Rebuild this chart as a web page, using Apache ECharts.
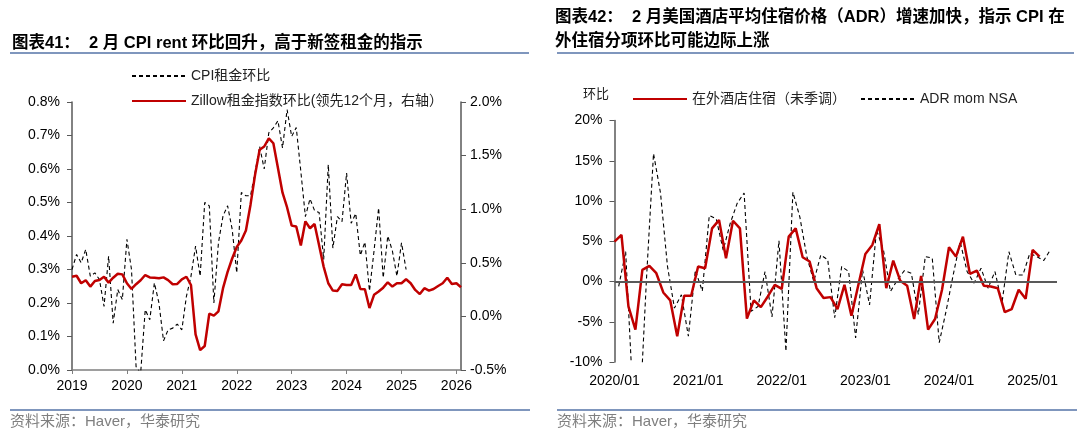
<!DOCTYPE html>
<html>
<head>
<meta charset="utf-8">
<script src="https://cdn.jsdelivr.net/npm/echarts@6/dist/echarts.min.js"></script>
<style>
html,body{margin:0;padding:0;background:#fff;}
#c{width:1080px;height:436px;}
</style>
</head>
<body>
<div id="c"></div>
<script>
// ---------- Left chart data (monthly, 2019-01 .. 2026-02) ----------
const leftStartYear = 2019;
const leftMonthCount = 86;
const leftYearLabels = ['2019','2020','2021','2022','2023','2024','2025','2026'];
// CPI rent MoM (%), 2019-01 .. 2025-02
const cpiRent = [
  0.30, 0.345, 0.32, 0.36, 0.28, 0.29, 0.27, 0.19, 0.34, 0.14, 0.24, 0.21,
  0.39, 0.30, 0.01, -0.01, 0.18, 0.15, 0.26, 0.20, 0.087, 0.12, 0.125, 0.137,
  0.12, 0.22, 0.28, 0.37, 0.28, 0.50, 0.49, 0.20, 0.38, 0.46, 0.49, 0.42,
  0.29, 0.53, 0.52, 0.52, 0.59, 0.667, 0.60, 0.708, 0.723, 0.744, 0.663, 0.777,
  0.697, 0.724, 0.593, 0.458, 0.511, 0.476, 0.47, 0.33, 0.613, 0.364, 0.458, 0.443,
  0.588, 0.438, 0.467, 0.342, 0.382, 0.236, 0.356, 0.484, 0.275, 0.40, 0.356, 0.28,
  0.38, 0.30
];
// Zillow rent index MoM (%), shifted 12 months ahead, plotted 2019-01 .. 2026-02
const zillow = [
  0.370, 0.379, 0.309, 0.337, 0.278, 0.330, 0.339, 0.370, 0.315, 0.361, 0.398, 0.392,
  0.309, 0.256, 0.300, 0.337, 0.386, 0.364, 0.361, 0.355, 0.364, 0.339, 0.300, 0.303,
  0.346, 0.370, 0.293, -0.168, -0.315, -0.276, 0.026, 0.007, 0.047, 0.263, 0.416, 0.540,
  0.647, 0.708, 0.801, 1.040, 1.320, 1.554, 1.585, 1.661, 1.615, 1.385, 1.154, 1.016,
  0.847, 0.838, 0.662, 0.887, 0.822, 0.862, 0.662, 0.462, 0.309, 0.241, 0.238, 0.300,
  0.293, 0.293, 0.392, 0.256, 0.253, 0.078, 0.201, 0.232, 0.268, 0.318, 0.278, 0.309,
  0.309, 0.346, 0.309, 0.247, 0.208, 0.263, 0.241, 0.256, 0.284, 0.309, 0.361, 0.303,
  0.309, 0.272
];

// ---------- Right chart data (monthly from 2020-01) ----------
const rightTickLabels = ['2020/01','2021/01','2022/01','2023/01','2024/01','2025/01'];
// CPI lodging away from home MoM NSA (%), 2020-01 .. 2025-02
const lodging = [
  4.95, 5.78, -3.09, -5.98, 1.44, 1.94, 1.03, -1.36, -2.35, -6.81, -1.77, -1.77,
  1.86, 1.65, 6.60, 7.63, 2.89, 7.55, 6.60, -4.60, -2.35, -3.18, -1.86, -0.41,
  -0.91, 5.57, 6.60, 3.01, 2.48, -0.83, -2.06, -1.94, -3.42, -0.41, -4.25, -0.40,
  3.42, 4.54, 7.14, -0.83, 2.60, 0.10, -0.54, -4.66, 0.70, -5.98, -4.66, -1.03,
  4.25, 3.09, 5.57, 0.95, 1.36, -0.54, -0.62, -0.83, -3.80, -3.42, -1.03, -2.15,
  3.92, 3.09
];
// Hotel ADR MoM NSA (%), 2020-01 .. 2025-03 (dated late in each month)
const adr = [
  -0.6, 3.7, -13.6, -17.0, 0.5, 15.9, 11.0, 1.9, -3.3, -1.65, -6.8, 1.4,
  -1.2, 8.2, 7.8, 3.9, 7.2, 9.7, 11.0, -3.7, -3.1, 1.24, -4.4, 5.07,
  -8.66, 11.1, 8.0, 3.1, 0.0, 3.3, 2.7, -4.5, 1.86, 1.24, -7.0, 1.44,
  -2.9, 6.4, 3.9, -1.24, 0.2, 1.36, 1.03, -4.1, 3.1, 2.9, -7.6, -3.6,
  0.8, 4.95, 1.24, -0.2, 1.65, -0.83, 1.24, -2.7, 3.7, 0.8, 0.8, 3.5,
  3.1, 2.6, 4.0
];
const adrDateOffset = 0.6; // ADR observations are dated later in the month (fraction of a month)

// ---------- build ----------
const leftMonths = [];
for (let i = 0; i < leftMonthCount; i++) {
  const y = leftStartYear + Math.floor(i / 12);
  const m = (i % 12) + 1;
  leftMonths.push(y + '-' + (m < 10 ? '0' + m : m));
}
const lodgingPts = lodging.map((v, i) => [i, v]);
const adrPts = adr.map((v, i) => [i + adrDateOffset, v]);

const FONT = "'Liberation Sans', Arial, 'Noto Sans CJK SC', sans-serif";
const RED = '#C00000';
const AXIS = '#595959';
const RULE = '#7F96BD';

const chart = echarts.init(document.getElementById('c'));
chart.setOption({
  animation: false,
  backgroundColor: '#fff',
  textStyle: { fontFamily: FONT },
  grid: [
    { left: 72, top: 102, width: 389, height: 268, containLabel: false },
    { left: 614.5, top: 120.5, width: 442.5, height: 241.5, containLabel: false }
  ],
  legend: [
    {
      left: 126, top: 64, orient: 'vertical', itemWidth: 54, itemHeight: 12, itemGap: 11,
      itemStyle: { opacity: 0 },
      textStyle: { fontSize: 14, color: '#222', fontFamily: FONT },
      data: ['CPI租金环比', 'Zillow租金指数环比(领先12个月，右轴）']
    },
    {
      left: 627, top: 87, orient: 'horizontal', itemWidth: 54, itemHeight: 12, itemGap: 14,
      itemStyle: { opacity: 0 },
      textStyle: { fontSize: 14, color: '#222', fontFamily: FONT },
      data: ['在外酒店住宿（未季调）', 'ADR mom NSA']
    }
  ],
  xAxis: [
    {
      type: 'category', gridIndex: 0, data: leftMonths, boundaryGap: false,
      axisLine: { lineStyle: { color: '#7f7f7f', width: 1.5 } },
      axisTick: { interval: (idx) => idx % 12 === 0, length: 4, lineStyle: { color: '#7f7f7f' } },
      axisLabel: {
        interval: (idx) => idx % 12 === 0,
        formatter: (val, idx) => leftYearLabels[Math.floor(idx / 12)],
        fontSize: 14, color: '#000', margin: 9
      },
      splitLine: { show: false }
    },
    {
      type: 'value', gridIndex: 1, min: 0, max: 63.5, interval: 12,
      axisLine: { show: false },
      axisTick: { show: false },
      axisLabel: {
        formatter: (v) => (v % 12 === 0 ? rightTickLabels[v / 12] : ''),
        showMaxLabel: false,
        fontSize: 14, color: '#000', margin: 12
      },
      splitLine: { show: false }
    }
  ],
  yAxis: [
    {
      type: 'value', gridIndex: 0, min: 0, max: 0.8, interval: 0.1, position: 'left',
      axisLine: { show: true, lineStyle: { color: AXIS, width: 1.5 } },
      axisTick: { show: true, length: 5, lineStyle: { color: AXIS } },
      axisLabel: { formatter: (v) => v.toFixed(1) + '%', fontSize: 14, color: '#000', margin: 12 },
      splitLine: { show: false }
    },
    {
      type: 'value', gridIndex: 0, min: -0.5, max: 2.0, interval: 0.5, position: 'right',
      axisLine: { show: true, lineStyle: { color: AXIS, width: 1.5 } },
      axisTick: { show: true, length: 5, lineStyle: { color: AXIS } },
      axisLabel: { formatter: (v) => v.toFixed(1) + '%', fontSize: 14, color: '#000', margin: 9 },
      splitLine: { show: false }
    },
    {
      type: 'value', gridIndex: 1, min: -10, max: 20, interval: 5,
      axisLine: { show: true, lineStyle: { color: AXIS, width: 1.5 } },
      axisTick: { show: true, length: 5, lineStyle: { color: AXIS } },
      axisLabel: { formatter: (v) => v + '%', fontSize: 14, color: '#000', margin: 12 },
      splitLine: { show: false }
    }
  ],
  series: [
    {
      name: 'CPI租金环比', type: 'line', xAxisIndex: 0, yAxisIndex: 0,
      data: cpiRent, symbol: 'none', z: 3,
      lineStyle: { color: '#000', width: 1.1, type: [4, 3] }, itemStyle: { color: '#000' }
    },
    {
      name: 'Zillow租金指数环比(领先12个月，右轴）', type: 'line', xAxisIndex: 0, yAxisIndex: 1,
      data: zillow, symbol: 'none', z: 4,
      lineStyle: { color: RED, width: 2.5 }, itemStyle: { color: RED }
    },
    {
      name: '在外酒店住宿（未季调）', type: 'line', xAxisIndex: 1, yAxisIndex: 2,
      data: lodgingPts, symbol: 'none', z: 4,
      lineStyle: { color: RED, width: 2.5 }, itemStyle: { color: RED },
      markLine: {
        silent: true, symbol: 'none', label: { show: false },
        lineStyle: { color: AXIS, width: 2, type: 'solid' },
        data: [{ yAxis: 0 }]
      }
    },
    {
      name: 'ADR mom NSA', type: 'line', xAxisIndex: 1, yAxisIndex: 2,
      data: adrPts, symbol: 'none', z: 3,
      lineStyle: { color: '#000', width: 1.1, type: [4, 3] }, itemStyle: { color: '#000' }
    }
  ],
  graphic: [
    { type: 'text', x: 12, y: 43, style: { text: '图表41：  2 月 CPI rent 环比回升，高于新签租金的指示', font: 'bold 16.5px ' + FONT, fill: '#000', align: 'left', verticalAlign: 'middle' } },
    { type: 'line', shape: { x1: 10, y1: 53, x2: 529, y2: 53 }, style: { stroke: RULE, lineWidth: 2 } },
    { type: 'text', x: 555, y: 17, style: { text: '图表42：  2 月美国酒店平均住宿价格（ADR）增速加快，指示 CPI 在', font: 'bold 16.5px ' + FONT, fill: '#000', align: 'left', verticalAlign: 'middle' } },
    { type: 'text', x: 555, y: 41, style: { text: '外住宿分项环比可能边际上涨', font: 'bold 16.5px ' + FONT, fill: '#000', align: 'left', verticalAlign: 'middle' } },
    { type: 'line', shape: { x1: 557, y1: 53, x2: 1074, y2: 53 }, style: { stroke: RULE, lineWidth: 2 } },
    { type: 'text', x: 583, y: 94, style: { text: '环比', font: '13px ' + FONT, fill: '#222', align: 'left', verticalAlign: 'middle' } },
    { type: 'line', shape: { x1: 10, y1: 410, x2: 530, y2: 410 }, style: { stroke: RULE, lineWidth: 2 } },
    { type: 'line', shape: { x1: 557, y1: 410, x2: 1077, y2: 410 }, style: { stroke: RULE, lineWidth: 2 } },
    { type: 'text', x: 10, y: 422, style: { text: '资料来源：Haver，华泰研究', font: '15px ' + FONT, fill: '#7f7f7f', align: 'left', verticalAlign: 'middle' } },
    { type: 'text', x: 557, y: 422, style: { text: '资料来源：Haver，华泰研究', font: '15px ' + FONT, fill: '#7f7f7f', align: 'left', verticalAlign: 'middle' } }
  ]
});
</script>
</body>
</html>
